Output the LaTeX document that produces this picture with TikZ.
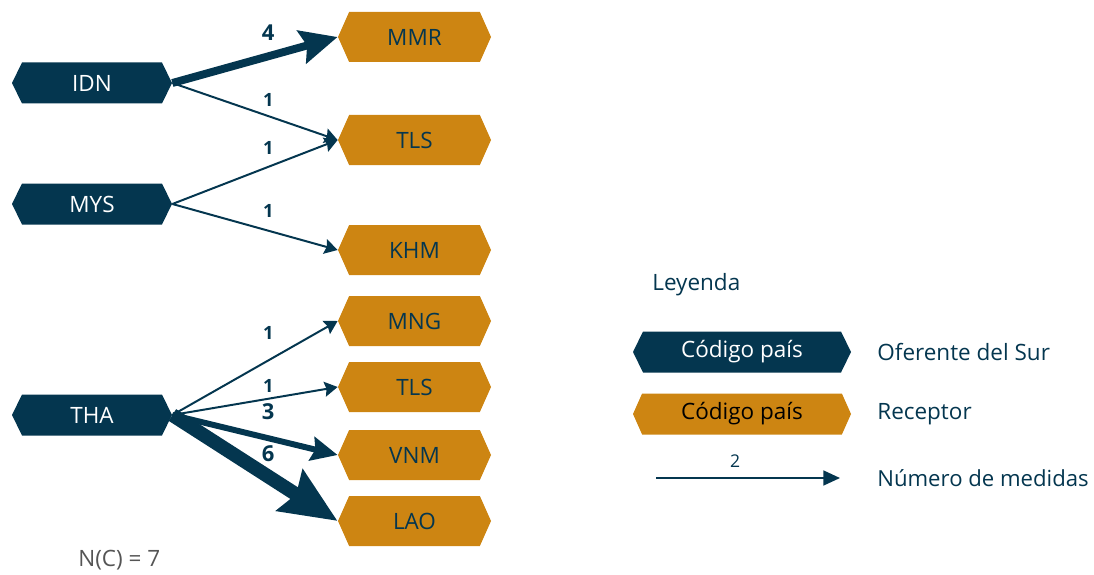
\documentclass[tikz,border=0pt]{standalone}
\usepackage{fontspec}
\setmainfont{Open Sans}
\usetikzlibrary{shapes.symbols,arrows.meta}
\definecolor{navy}{HTML}{04364F}
\definecolor{ocre}{HTML}{CD8512}
\definecolor{grisn}{HTML}{555555}

\begin{document}
\begin{tikzpicture}[
  oferente/.style={signal, signal to=east and west, signal pointer angle=128,
    fill=navy, text=white, minimum width=3.2cm, minimum height=0.82cm,
    inner sep=0pt, font=\fontsize{12.8}{15}\selectfont},
  receptor/.style={signal, signal to=east and west, signal pointer angle=132,
    fill=ocre, text=navy, minimum width=3.06cm, minimum height=1.0cm,
    inner sep=0pt, font=\fontsize{12.8}{15}\selectfont},
  m1/.style={draw=navy, line width=1.13pt, -{Stealth[length=7.4pt, width=8.5pt, inset=1pt]}},
  m3/.style={draw=navy, line width=3.4pt, -{Stealth[length=15pt, width=13.6pt, inset=2pt]}},
  m4/.style={draw=navy, line width=4.5pt, -{Stealth[length=21pt, width=19pt, inset=3pt]}},
  m6/.style={draw=navy, line width=7.9pt, -{Stealth[length=32pt, width=27pt, inset=4pt]}},
  lbl1/.style={text=navy, font=\fontsize{10.4}{12}\selectfont\bfseries},
  lbl2/.style={text=navy, font=\fontsize{12.5}{14}\selectfont\bfseries},
  txt/.style={text=navy, font=\fontsize{12.8}{15}\selectfont, anchor=west, inner sep=0pt}
]
\useasboundingbox (0,0) rectangle (21.88,11.48);

% Oferentes del Sur
\foreach \n/\t/\y in {idn/IDN/9.82, mys/MYS/7.40, tha/THA/3.18} {
    \node[oferente] (\n) at (1.84,\y) {\t};
}

% Receptores
\foreach \n/\t/\y in {mmr/MMR/10.74, tls/TLS/8.68, khm/KHM/6.48, mng/MNG/5.06,
                      tlsb/TLS/3.74, vnm/VNM/2.38, lao/LAO/1.06} {
    \node[receptor] (\n) at (8.29,\y) {\t};
}

% Medidas
\foreach \a/\b/\w/\ls/\s in {idn/mmr/4/lbl2/0.48, idn/tls/1/lbl1/0.32,
                             mys/tls/1/lbl1/0.38, mys/khm/1/lbl1/0.40,
                             tha/mng/1/lbl1/0.56, tha/tlsb/1/lbl1/0.26,
                             tha/vnm/3/lbl2/0.54, tha/lao/6/lbl2/0.46} {
    \draw[m\w] (\a.east) -- node[\ls, pos=.58, yshift=\s cm] {\w} (\b.west);
}

\node[txt, text=grisn] (nc) at (1.56,0.28) {N(C) = 7};

% Leyenda
\node[txt] (ley) at (13.04,5.78) {Leyenda};
\node[oferente, minimum width=4.36cm] (legof) at (14.84,4.44) {Código país};
\node[receptor, minimum width=4.36cm, minimum height=0.82cm, text=black] (legrec) at (14.84,3.20) {Código país};
\node[txt] (tof) at (17.54,4.44) {Oferente del Sur};
\node[txt] (trec) at (17.54,3.20) {Receptor};
\coordinate (la) at (13.12,1.92);
\coordinate (lb) at (16.80,1.92);
\draw[draw=navy, line width=1.13pt, -{Triangle[length=9.5pt, width=8.5pt]}] (la) -- node[text=navy, font=\fontsize{10}{12}\selectfont, pos=.43, yshift=0.34cm] {2} (lb);
\node[txt, font=\fontsize{12.6}{15}\selectfont] (tmed) at (17.54,1.92) {Número de medidas};

\end{tikzpicture}
\end{document}
